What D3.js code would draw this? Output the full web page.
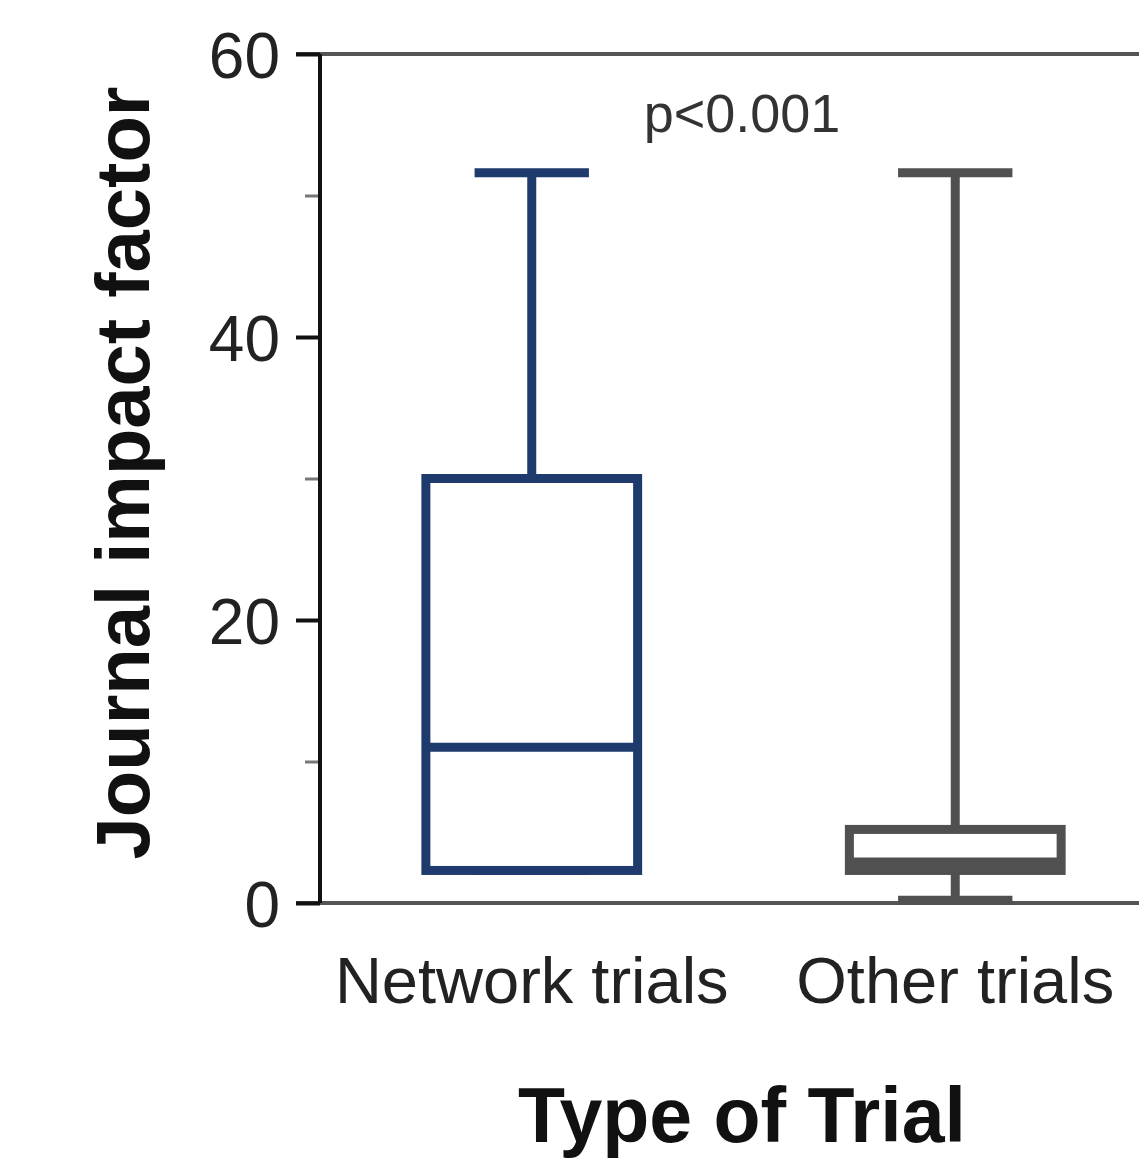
<!DOCTYPE html>
<html>
<head>
<meta charset="utf-8">
<script src="https://cdn.jsdelivr.net/npm/d3@7"></script>
<style>
  html, body { margin: 0; padding: 0; background: #fff; }
  svg { display: block; }
</style>
</head>
<body>
<script>
// Journal impact factor by type of trial (box-and-whisker summary)
const categories = ["Network trials", "Other trials"];
const mins    = [2.3, 0.2];
const q1s     = [2.3, 2.3];
const medians = [11.0, 2.9];
const q3s     = [30.0, 5.2];
const maxs    = [51.6, 51.6];
const colors  = ["#1f3a6d", "#505050"];
const majorTicks = [0, 20, 40, 60];
const minorTicks = [10, 30, 50];
const pLabel = "p<0.001";

const W = 1139, H = 1165;
const svg = d3.select("body").append("svg").attr("width", W).attr("height", H);

const y = d3.scaleLinear().domain([0, 60]).range([903, 54]);
const x = d3.scaleBand().domain(categories).range([320, 1167]).padding(0);

const boxW = x.bandwidth() * 0.5;
const capW = x.bandwidth() * 0.27;

// frame lines (top and bottom)
svg.append("line").attr("x1", 296).attr("x2", W).attr("y1", y(60)).attr("y2", y(60))
  .attr("stroke", "#555").attr("stroke-width", 4);
svg.append("line").attr("x1", 296).attr("x2", W).attr("y1", y(0)).attr("y2", y(0))
  .attr("stroke", "#555").attr("stroke-width", 4);

// minor ticks
const minorAxis = svg.append("g").attr("transform", "translate(320,0)")
  .call(d3.axisLeft(y).tickValues(minorTicks).tickSize(15).tickFormat(""));
minorAxis.select(".domain").remove();
minorAxis.selectAll(".tick line").attr("stroke", "#777").attr("stroke-width", 3);

// major ticks with labels
const yAxis = svg.append("g").attr("transform", "translate(320,0)")
  .call(d3.axisLeft(y).tickValues(majorTicks).tickSize(24).tickPadding(16));
yAxis.select(".domain").remove();
yAxis.selectAll(".tick line").attr("stroke", "#111").attr("stroke-width", 4);
yAxis.selectAll(".tick text")
  .attr("font-family", "'Liberation Sans', Arial, sans-serif")
  .attr("font-size", 64)
  .attr("fill", "#222")
  .attr("dy", "0.36em");

// y axis line
svg.append("line").attr("x1", 320).attr("x2", 320).attr("y1", y(60)).attr("y2", y(0))
  .attr("stroke", "#111").attr("stroke-width", 4);

// boxes
categories.forEach((c, i) => {
  const cx = x(c) + x.bandwidth() / 2;
  const g = svg.append("g").attr("stroke", colors[i]).attr("stroke-width", 9).attr("fill", "none");
  // upper whisker
  g.append("line").attr("x1", cx).attr("x2", cx).attr("y1", y(q3s[i])).attr("y2", y(maxs[i]));
  g.append("line").attr("x1", cx - capW / 2).attr("x2", cx + capW / 2).attr("y1", y(maxs[i])).attr("y2", y(maxs[i]));
  // lower whisker
  g.append("line").attr("x1", cx).attr("x2", cx).attr("y1", y(q1s[i])).attr("y2", y(mins[i]));
  g.append("line").attr("x1", cx - capW / 2).attr("x2", cx + capW / 2).attr("y1", y(mins[i])).attr("y2", y(mins[i]));
  // box
  g.append("rect").attr("x", cx - boxW / 2).attr("width", boxW)
    .attr("y", y(q3s[i])).attr("height", y(q1s[i]) - y(q3s[i]))
    .attr("fill", "#fff");
  // median
  g.append("line").attr("x1", cx - boxW / 2).attr("x2", cx + boxW / 2)
    .attr("y1", y(medians[i])).attr("y2", y(medians[i]));
});

// category labels
svg.selectAll("text.cat").data(categories).enter().append("text")
  .attr("class", "cat")
  .attr("x", d => x(d) + x.bandwidth() / 2)
  .attr("y", 1003)
  .attr("text-anchor", "middle")
  .attr("font-family", "'Liberation Sans', Arial, sans-serif")
  .attr("font-size", 65)
  .attr("fill", "#222")
  .text(d => d);

// significance label
svg.append("text")
  .attr("x", 742).attr("y", 132)
  .attr("text-anchor", "middle")
  .attr("font-family", "'Liberation Sans', Arial, sans-serif")
  .attr("font-size", 54)
  .attr("fill", "#333")
  .text(pLabel);

// axis titles
svg.append("text")
  .attr("transform", "translate(149,473) rotate(-90)")
  .attr("text-anchor", "middle")
  .attr("font-family", "'Liberation Sans', Arial, sans-serif")
  .attr("font-weight", "bold")
  .attr("font-size", 76)
  .attr("fill", "#111")
  .text("Journal impact factor");

svg.append("text")
  .attr("x", 742).attr("y", 1142)
  .attr("text-anchor", "middle")
  .attr("font-family", "'Liberation Sans', Arial, sans-serif")
  .attr("font-weight", "bold")
  .attr("font-size", 77)
  .attr("fill", "#111")
  .text("Type of Trial");
</script>
</body>
</html>
